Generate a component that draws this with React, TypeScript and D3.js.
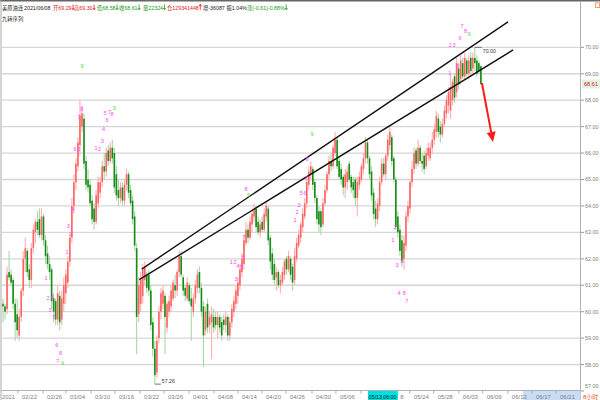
import React from 'react';
import * as d3 from 'd3';

// ---- OHLC data (8-hour bars), [open, high, low, close] ----
const febBars: number[][] = [
  [60.3,60.5,59.6,60.2],[60.2,60.3,59.7,60.0],[60.1,61.7,59.9,61.4],[61.5,62.3,61.2,61.3],[61.4,61.6,61.0,61.1],
  [61.2,61.3,60.1,60.3],[60.3,60.5,58.9,59.6],[59.9,60.5,59.0,59.3],[59.1,60.1,58.9,59.8],[59.8,60.9,59.6,60.8],
  [60.8,62.3,60.6,62.0],[62.0,62.8,61.5,62.4],[62.3,62.4,61.3,61.5],[61.6,61.8,60.9,61.2],[61.2,62.6,60.9,62.4],
  [62.4,63.3,62.2,63.1],[63.0,63.5,62.6,63.4],[63.4,63.8,62.9,63.1],[63.5,63.9,62.8,62.9],[62.9,63.9,62.7,63.6],
  [63.6,63.7,62.5,62.7],
];
const marBars: number[][] = [
  [62.7,62.9,61.8,62.1],[62.2,62.5,61.6,61.8],[61.8,62.1,61.2,61.5],[61.6,61.7,60.1,60.4],[60.5,60.7,59.6,60.0],
  [60.4,60.5,59.5,59.7],[59.7,61.0,59.5,60.7],[60.6,60.8,59.3,59.6],[59.7,60.8,59.5,60.5],[60.3,61.3,60.0,61.0],
  [60.7,61.6,60.3,61.4],[61.1,62.1,60.9,61.9],[61.9,63.0,61.7,62.8],[62.8,64.3,62.6,64.0],[64.0,65.2,63.7,64.9],
  [64.9,65.8,64.6,65.6],[65.5,66.6,65.3,66.4],[66.3,68.0,65.9,67.4],[67.0,67.8,66.8,67.5],[67.3,67.5,65.4,65.6],
  [65.7,65.9,64.6,64.8],[65.0,65.4,64.5,64.7],[64.8,65.0,64.0,64.1],[64.2,64.4,63.3,63.5],[63.9,64.1,63.1,63.4],
  [63.4,64.6,63.3,64.4],[64.1,65.1,63.9,64.9],[64.5,65.1,64.3,64.9],[64.9,65.7,64.7,65.5],[65.5,66.0,65.0,65.3],
  [65.3,66.2,65.1,66.0],[66.1,66.3,65.5,65.7],[65.7,66.4,65.6,66.2],[66.2,66.5,65.6,65.8],[66.0,66.2,64.5,64.7],
  [65.2,65.5,64.2,64.4],[64.6,65.0,64.0,64.3],[64.3,64.9,64.1,64.7],[64.7,64.9,64.0,64.2],[64.2,65.0,64.0,64.8],
  [64.8,65.4,64.6,65.2],[65.2,65.3,64.3,64.5],[64.6,64.8,64.0,64.1],[64.2,64.4,63.3,63.5],[63.6,63.8,62.3,62.5],
  [62.4,62.6,58.4,59.8],[59.9,61.3,59.6,61.0],[60.3,61.5,60.0,61.2],[60.6,61.8,60.3,61.6],[61.2,61.9,61.0,61.7],
  [61.4,61.5,60.7,60.9],[61.4,61.6,60.6,60.8],[60.8,61.0,59.3,59.5],[59.6,59.8,58.3,58.6],[58.6,58.9,57.26,57.6],
  [57.7,59.1,57.5,58.9],[59.0,60.2,58.8,60.0],[60.0,60.9,59.7,60.7],[60.3,61.0,60.1,60.8],[60.6,60.7,58.4,59.8],
  [59.4,60.4,59.2,60.3],[60.0,60.6,59.8,60.4],[60.2,61.0,60.0,60.8],[60.5,61.2,60.4,61.1],[61.0,61.4,60.5,60.8],
  [60.8,61.6,60.6,61.5],[61.5,62.3,61.3,62.1],[62.1,62.3,61.3,61.4],[61.3,61.4,60.6,60.8],[60.9,61.0,60.4,60.6],
  [60.5,61.3,60.4,61.1],
];
const aprBars: number[][] = [
  [61.0,61.1,60.3,60.4],[60.5,60.9,58.9,60.2],[60.0,60.7,59.8,60.5],[60.5,61.2,60.3,61.0],[60.9,61.6,60.7,61.4],
  [61.5,61.7,60.7,60.9],[60.9,61.1,59.8,60.0],[60.2,60.4,57.9,59.1],[59.3,60.2,59.1,60.0],[60.3,60.5,59.2,59.4],
  [59.5,60.0,59.2,59.8],[59.6,60.2,58.2,59.9],[59.8,60.1,59.2,59.4],[59.8,60.0,59.3,59.5],[59.5,60.0,59.0,59.8],
  [59.8,59.9,59.2,59.4],[59.6,59.8,58.9,59.1],[59.7,59.9,59.3,59.5],[59.5,60.0,59.2,59.8],[59.8,59.9,58.9,59.1],
  [59.1,59.8,58.9,59.6],[59.6,60.3,59.4,60.1],[60.0,60.6,59.8,60.4],[60.3,61.0,60.1,60.8],[60.6,61.3,60.3,61.1],
  [61.0,61.8,60.8,61.6],[61.5,62.2,61.3,62.0],[61.8,62.9,61.6,62.7],[62.6,63.4,62.5,63.1],[63.1,63.3,62.6,62.8],
  [62.8,63.6,62.7,63.4],[63.3,63.9,63.0,63.7],[63.6,64.1,63.4,63.9],[63.9,64.0,63.0,63.2],[63.4,63.6,62.9,63.0],
  [63.0,63.5,62.8,63.3],[63.4,63.6,63.0,63.1],[63.1,63.9,63.0,63.7],[63.6,64.2,63.4,64.0],[63.9,64.0,62.5,62.7],
  [62.8,62.9,61.6,61.9],[62.2,62.4,61.2,61.4],[61.8,62.0,61.0,61.2],[61.3,61.7,60.8,61.5],[61.5,61.6,60.9,61.0],
  [61.0,61.4,60.7,61.2],[61.1,61.7,61.0,61.5],[61.4,62.0,61.2,61.9],[62.0,62.1,61.4,61.6],[61.6,62.3,61.5,62.1],
  [62.0,62.1,61.2,61.4],[61.7,61.8,60.8,61.1],[61.2,62.4,61.0,62.1],[62.0,62.8,61.9,62.6],[62.5,63.1,62.4,62.9],
  [62.8,63.4,62.6,63.3],[63.2,63.9,63.0,63.7],[63.6,64.3,63.5,64.1],[64.1,65.1,63.9,64.9],[64.8,65.5,64.6,65.3],
  [65.2,65.7,65.0,65.5],
];
const mayBars: number[][] = [
  [65.4,65.5,64.6,64.8],[64.9,65.0,64.1,64.3],[64.3,64.4,63.3,63.5],[63.8,64.0,63.0,63.3],[63.8,63.9,62.9,63.2],
  [63.3,64.3,63.2,64.1],[64.1,64.8,64.0,64.6],[64.6,65.3,64.5,65.2],[65.2,65.9,65.0,65.7],[65.7,66.0,65.3,65.5],
  [65.5,66.3,65.4,66.2],[66.0,66.8,65.9,66.5],[66.5,66.6,65.4,65.5],[65.7,65.9,65.0,65.1],[65.4,65.6,64.8,65.0],
  [65.1,65.2,64.4,64.7],[64.7,65.4,64.3,65.2],[64.9,65.5,64.6,65.3],[65.6,65.7,64.9,65.0],[65.1,65.2,64.5,64.7],
  [64.9,65.1,64.3,64.6],[65.0,65.1,64.0,64.3],[64.3,65.1,63.6,64.9],[64.8,65.3,64.6,65.1],[65.0,65.6,64.9,65.5],
  [65.4,66.0,65.2,65.8],[65.8,66.6,65.6,66.4],[66.4,66.5,65.6,65.8],[65.8,65.9,65.0,65.2],[65.3,65.5,64.2,64.4],
  [64.5,64.7,63.5,63.7],[63.9,64.2,63.2,63.5],[63.5,64.3,63.3,64.1],[64.0,65.1,63.8,64.9],[64.9,65.8,64.8,65.6],
  [65.6,65.8,65.1,65.2],[65.2,66.0,65.0,65.9],[65.9,66.7,65.7,66.5],[66.3,67.0,66.1,66.8],[66.6,66.7,65.5,65.7],
  [65.8,65.9,64.9,65.0],[65.0,65.1,63.1,63.2],[63.6,63.8,62.8,63.0],[63.1,63.3,62.1,62.3],[62.7,62.9,61.7,61.9],
  [62.0,62.9,61.6,62.6],[62.5,63.8,62.3,63.6],[63.6,64.2,63.4,64.0],[63.9,65.0,63.7,64.9],[64.9,65.7,64.7,65.4],
  [65.4,66.2,65.2,66.0],[66.1,66.2,65.4,65.6],[65.6,66.5,65.5,66.2],[66.2,66.3,65.6,65.7],[65.7,66.0,65.3,65.6],
  [65.9,66.1,65.2,65.4],[65.5,66.2,65.4,66.0],[65.9,66.4,65.7,66.2],[65.8,66.4,65.7,66.2],[66.2,66.8,66.0,66.5],
  [66.5,67.1,66.3,66.9],[66.8,67.6,66.6,67.4],
];
const junBars: number[][] = [
  [67.3,67.5,66.6,66.8],[67.0,67.2,66.4,66.7],[66.7,67.3,66.6,67.1],[67.1,67.8,67.0,67.6],[67.5,68.2,67.3,68.0],
  [67.8,68.5,67.5,68.3],[67.6,69.0,67.3,68.5],[68.0,68.8,67.8,68.7],[68.9,69.0,67.9,68.1],[68.3,69.6,68.1,69.4],
  [69.2,69.4,68.4,68.6],[68.8,69.7,68.6,69.5],[69.4,69.6,68.8,68.9],[68.9,69.8,68.8,69.6],[69.5,69.6,68.9,69.0],
  [69.0,69.7,68.8,69.5],[69.6,69.8,68.9,69.1],[69.2,69.8,69.0,69.6],[69.6,70.0,69.1,69.4],[69.5,69.7,68.9,69.0],
  [69.4,69.5,69.0,69.1],[69.29,69.30,68.58,68.61],
];

const priceTicks = [57, 58, 59, 60, 61, 62, 63, 64, 65, 66, 67, 68, 69, 70];
const dateTicks: [number, string][] = [
  [7.4, '02/22'], [19.8, '02/26'], [31.1, '03/04'], [43.5, '03/10'], [55.3, '03/16'], [67.7, '03/22'],
  [79.5, '03/26'], [91.9, '04/01'], [104.2, '04/08'], [116.0, '04/14'], [127.9, '04/20'], [139.7, '04/26'],
  [152.6, '04/30'], [164.4, '05/06'], [200.9, '05/24'], [212.7, '05/28'],
  [225.1, '06/03'], [236.9, '06/09'], [249.3, '06/13'], [261.2, '06/17'], [273.1, '06/21'],
];
// ticks partly hidden behind the cursor box; only the tail "8" of 05/18 shows
const hiddenTicks = [176.8, 189.0];
const partialTickText: [number, string] = [196.2, '8'];
const cursorLabel: [number, string] = [187.6, '05/13,06:00'];

// TD sequential (九转序列) counts: [bar index, price, text, isNine]
const tdLabels: [number, number, string, number][] = [
  [21.2, 61.28, '1', 0], [22.2, 60.53, '2', 0], [23.2, 60.07, '3', 0], [24.4, 60.56, '4', 0], [25.2, 59.81, '5', 0],
  [26.5, 58.75, '6', 0], [27.0, 58.15, '7', 0], [28.4, 58.45, '8', 0], [29.4, 58.05, '9', 1],
  [31.6, 62.26, '1', 0], [33.6, 62.95, '2', 0], [32.2, 63.25, '3', 0], [34.6, 63.89, '4', 0], [37.4, 66.17, '5', 0],
  [35.6, 66.17, '6', 0], [37.5, 67.36, '7', 0], [38.9, 67.67, '8', 0], [39.0, 69.29, '9', 1],
  [45.9, 66.19, '1', 0], [47.7, 66.15, '2', 0], [49.0, 66.45, '3', 0], [49.6, 66.91, '4', 0], [50.4, 67.51, '5', 0],
  [51.4, 67.25, '6', 0], [52.6, 67.55, '7', 0], [53.8, 67.46, '8', 0], [54.9, 67.7, '9', 1],
  [112.7, 61.89, '1', 0], [114.6, 61.89, '2', 0], [115.1, 61.24, '3', 0], [116.0, 61.74, '4', 0], [117.8, 61.7, '5', 0],
  [118.4, 62.08, '6', 0], [119.0, 62.83, '7', 0], [120.0, 64.64, '8', 0], [121.2, 64.43, '9', 1],
  [144.2, 63.47, '1', 0], [145.2, 63.78, '2', 0], [146.2, 64.04, '3', 0], [147.3, 64.49, '5', 0], [149.1, 64.49, '6', 0],
  [149.6, 65.06, '7', 0], [150.3, 65.76, '8', 0], [152.6, 66.72, '9', 1],
  [192.6, 62.72, '1', 0], [193.6, 63.21, '2', 0], [194.6, 61.77, '3', 0], [195.6, 60.71, '4', 0], [197.0, 61.92, '5', 0],
  [198.2, 60.71, '8', 0], [199.4, 60.4, '7', 0],
  [220.7, 69.02, '1', 0], [220.9, 70.1, '2', 0], [222.7, 70.1, '3', 0], [224.5, 69.3, '5', 0], [225.7, 70.37, '6', 0],
  [226.7, 70.8, '7', 0], [228.4, 70.62, '8', 0], [230.2, 70.5, '9', 1],
];

// Channel lines and projection arrow: [bar index, price]
const upperLine: [number, number][] = [[68.5, 61.61], [249.4, 70.96]];
const lowerLine: [number, number][] = [[67.3, 61.21], [251.9, 69.9]];
const arrowLine: [number, number][] = [[236.5, 68.65], [242.0, 66.42]];
const lowMark: [number, number] = [75, 57.26];
const highMark: [number, number] = [233, 70.0];
const lastPrice = 68.61;

// header quote items: [text, colour, x, direction marker (1 up, -1 down, 0 none)]
const headerItems: [string, string, number, number][] = [
  ['美原油连', '#222', 2, 0],
  ['2021/06/08', '#222', 24, 0],
  ['开69.29', '#e02020', 53, -1],
  ['高69.30', '#e02020', 74, -1],
  ['低68.58', '#1a9a1a', 97, -1],
  ['收68.61', '#1a9a1a', 119, -1],
  ['量22324', '#1a9a1a', 143, -1],
  ['仓129341448', '#e02020', 167, 1],
  ['增-36087', '#222', 203, 0],
  ['振1.04%', '#222', 226.5, 0],
  ['涨(-0.61)-0.88%', '#1a9a1a', 247, -1],
];
const headerWidths = [20, 26, 18.6, 18.6, 18.6, 18.6, 20, 31.8, 21.8, 19.5, 37.7];

const W = 600;
const H = 400;

export default function App() {
  const bars = [...febBars, ...marBars, ...aprBars, ...mayBars, ...junBars].map(([o, h, l, c], i) => ({ i, o, h, l, c }));
  const x = d3.scaleLinear().domain([0, 285]).range([3, 580.1]);
  const y = d3.scaleLinear().domain([57, 70]).range([391, 47.3]);
  const line = d3.line<[number, number]>().x((d) => x(d[0])).y((d) => y(d[1]));
  const font = "'Liberation Sans', Arial, sans-serif";
  const cjk = "'Liberation Sans', 'Noto Sans CJK SC', sans-serif";

  const a0 = arrowLine[0];
  const a1 = arrowLine[1];
  const ax0 = x(a0[0]), ay0 = y(a0[1]), ax1 = x(a1[0]), ay1 = y(a1[1]);
  const ang = Math.atan2(ay1 - ay0, ax1 - ax0);
  const headLen = 10, headW = 4.5;
  const bx = ax1 - headLen * Math.cos(ang), by = ay1 - headLen * Math.sin(ang);
  const head = `${ax1},${ay1} ${bx + headW * Math.sin(ang)},${by - headW * Math.cos(ang)} ${bx - headW * Math.sin(ang)},${by + headW * Math.cos(ang)}`;

  return (
    <svg width={W} height={H} style={{ position: 'absolute', left: 0, top: 0, background: '#fff' }}>
      <rect x={0} y={0} width={W} height={H} fill="#fff" />
      {/* top border */}
      <line x1={0} x2={W} y1={0.75} y2={0.75} stroke="#666" strokeWidth={1.5} />
      <line x1={1} x2={1} y1={0} y2={H} stroke="#aaa" strokeWidth={1} />
      {/* gridlines */}
      {priceTicks.filter((p) => p > 57).map((p) => (
        <line key={'g' + p} x1={2} x2={580} y1={y(p)} y2={y(p)} stroke="#d6d6d6" strokeWidth={1.3} />
      ))}
      {/* right axis */}
      <line x1={580.5} x2={580.5} y1={1} y2={H} stroke="#b0b0b0" strokeWidth={1} />
      {priceTicks.map((p) => (
        <g key={'t' + p}>
          <line x1={581} x2={584} y1={y(p)} y2={y(p)} stroke="#999" strokeWidth={1} />
          <text x={585} y={p === 57 ? 386 : y(p)} dominantBaseline="central" fontSize={5.8} fill="#808080"
            fontFamily={font} textLength={13.5} lengthAdjust="spacingAndGlyphs">{p.toFixed(2)}</text>
        </g>
      ))}
      {/* last price tag */}
      <rect x={582} y={y(lastPrice) - 4.5} width={18} height={9} fill="#e3f1e3" />
      <text x={584} y={y(lastPrice)} dominantBaseline="central" fontSize={5.8} fill="#e02020" fontFamily={font}
        textLength={14} lengthAdjust="spacingAndGlyphs">{lastPrice.toFixed(2)}</text>
      {/* x axis */}
      <line x1={1} x2={580.5} y1={390.5} y2={390.5} stroke="#b0b0b0" strokeWidth={1} />
      <rect x={523} y={391} width={57.5} height={9} fill="#c9dcf5" />
      <text x={2} y={398.5} fontSize={6} fill="#808080" fontFamily={font} textLength={13} lengthAdjust="spacingAndGlyphs">2021</text>
      {dateTicks.map(([i, lab]) => (
        <g key={'d' + lab}>
          <line x1={x(i)} x2={x(i)} y1={391} y2={393.5} stroke="#999" strokeWidth={0.8} />
          <text x={x(i) + 4} y={398.5} fontSize={6} fill="#808080" fontFamily={font}
            textLength={15} lengthAdjust="spacingAndGlyphs">{lab}</text>
        </g>
      ))}
      {hiddenTicks.map((i) => (
        <line key={'h' + i} x1={x(i)} x2={x(i)} y1={391} y2={393.5} stroke="#999" strokeWidth={0.8} />
      ))}
      <text x={x(partialTickText[0])} y={398.5} fontSize={6} fill="#808080" fontFamily={font}>{partialTickText[1]}</text>
      <rect x={x(cursorLabel[0]) - 15} y={391} width={30} height={9} fill="#00e0e0" />
      <text x={x(cursorLabel[0]) - 14} y={398.5} fontSize={5.3} fill="#111" fontFamily={font}
        textLength={27.5} lengthAdjust="spacingAndGlyphs">{cursorLabel[1]}</text>
      <text x={583} y={398.5} fontSize={5.8} fill="#e8501a" fontFamily={cjk} textLength={15} lengthAdjust="spacingAndGlyphs">8小时</text>
      {/* candles */}
      {bars.map((b) => {
        const up = b.c >= b.o;
        const cx = x(b.i);
        const top = y(Math.max(b.o, b.c));
        const bot = y(Math.min(b.o, b.c));
        return (
          <g key={'b' + b.i}>
            <line x1={cx} x2={cx} y1={y(b.h)} y2={y(b.l)} stroke={up ? '#ffb0b0' : '#a8d8a8'} strokeWidth={1.1} />
            <rect x={cx - 0.8} y={top} width={1.6} height={Math.max(1, bot - top)} fill={up ? '#ff6464' : '#168c16'} />
          </g>
        );
      })}
      {/* channel lines */}
      <path d={line(upperLine) || ''} stroke="#111" strokeWidth={1.4} fill="none" />
      <path d={line(lowerLine) || ''} stroke="#111" strokeWidth={1.4} fill="none" />
      {/* hi/lo markers */}
      <line x1={x(lowMark[0])} x2={x(lowMark[0]) + 6} y1={y(lowMark[1])} y2={y(lowMark[1])} stroke="#555" strokeWidth={0.8} />
      <text x={x(lowMark[0]) + 7} y={y(lowMark[1]) - 3} dominantBaseline="central" fontSize={5.8} fill="#333" fontFamily={font}
        textLength={13} lengthAdjust="spacingAndGlyphs">{lowMark[1].toFixed(2)}</text>
      <line x1={x(highMark[0])} x2={x(highMark[0]) + 7} y1={y(highMark[1])} y2={y(highMark[1])} stroke="#555" strokeWidth={0.8} />
      <text x={x(highMark[0]) + 8} y={y(highMark[1]) + 3.5} dominantBaseline="central" fontSize={5.8} fill="#333" fontFamily={font}
        textLength={13} lengthAdjust="spacingAndGlyphs">{highMark[1].toFixed(2)}</text>
      {/* TD labels */}
      {tdLabels.map(([i, p, t, nine], k) => (
        <text key={'td' + k} x={x(i)} y={y(p)} textAnchor="middle" dominantBaseline="central" fontSize={5.5}
          fill={nine ? '#44e044' : '#ff44ff'} fontFamily={font}>{t}</text>
      ))}
      {/* arrow */}
      <line x1={ax0} y1={ay0} x2={bx} y2={by} stroke="#ff1a1a" strokeWidth={2} />
      <polygon points={head} fill="#ff1a1a" />
      {/* header */}
      {headerItems.map(([t, c, hx, dir], k) => {
        const w = headerWidths[k];
        const mx = hx + w + 1.5;
        return (
          <g key={t}>
            <text x={hx} y={10} fontSize={5.3} fill={c} fontFamily={cjk}>{t}</text>
            {dir !== 0 && (
              <path
                d={dir < 0
                  ? `M${mx},4.5 L${mx},9.5 M${mx - 1.2},8 L${mx},9.8 L${mx + 1.2},8`
                  : `M${mx},9.8 L${mx},4.5 M${mx - 1.2},6.3 L${mx},4.2 L${mx + 1.2},6.3`}
                stroke={c} strokeWidth={0.8} fill="none"
              />
            )}
          </g>
        );
      })}
      <text x={2} y={20.5} fontSize={5.3} fill="#222" fontFamily={cjk}>九转序列</text>
      <rect x={595.5} y={3} width={4} height={4.5} fill="none" stroke="#f0a070" strokeWidth={1} />
    </svg>
  );
}
